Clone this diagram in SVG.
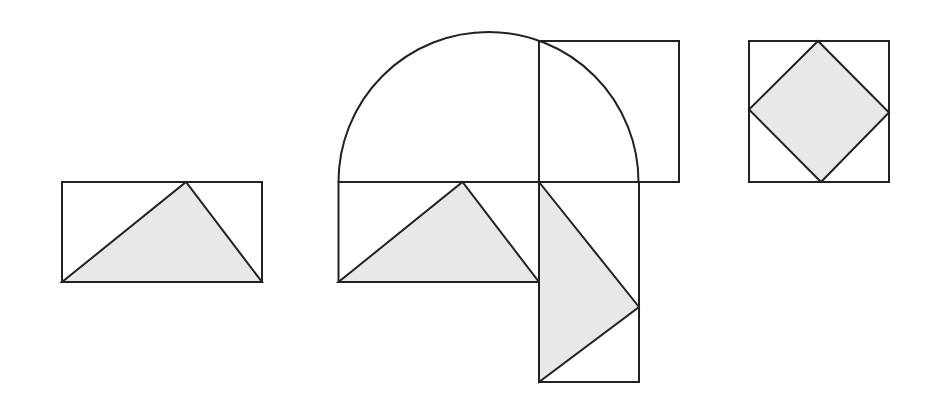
<svg xmlns="http://www.w3.org/2000/svg" width="949" height="400" viewBox="0 0 949 400">
<style>
.s{fill:none;stroke:#222;stroke-width:2;stroke-linejoin:miter}
.f{fill:#e8e8e8;stroke:#222;stroke-width:2;stroke-linejoin:miter}
</style>
<rect width="949" height="400" fill="#fff"/>
<g id="left">
<polygon class="f" points="62,282 186,182 262,282"/>
<rect class="s" x="62" y="182" width="200" height="100"/>
</g>
<g id="middle">
<path class="s" d="M338.5,182 A150,150 0 0 1 638.5,182"/>
<rect class="s" x="539" y="41" width="140" height="141"/>
<polygon class="f" points="338.5,282 462.5,182 539,282"/>
<rect class="s" x="338.5" y="182" width="200.5" height="100"/>
<polygon class="f" points="539,182 639,307 539,382"/>
<rect class="s" x="539" y="182" width="100" height="200"/>
</g>
<g id="right">
<polygon class="f" points="818,41 889,112.5 821,182 749,109.5"/>
<rect class="s" x="749" y="41" width="140" height="141"/>
</g>
</svg>
